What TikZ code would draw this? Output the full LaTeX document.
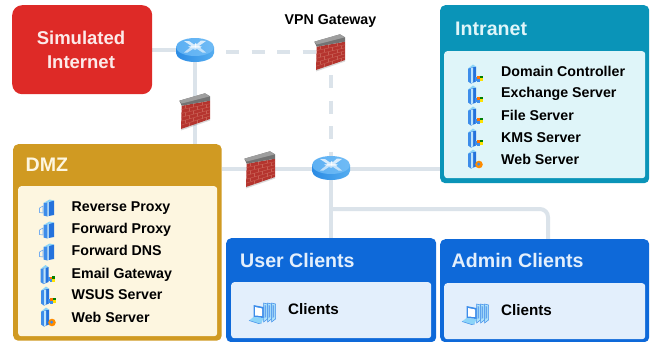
\documentclass[tikz,border=0pt]{standalone}
\usepackage{fontspec}
\setmainfont{Liberation Sans}
\usetikzlibrary{backgrounds}
\definecolor{linkc}{HTML}{DBE3EA}
\definecolor{redc}{HTML}{DE2A27}
\definecolor{goldc}{HTML}{D09A22}
\definecolor{goldi}{HTML}{FDF6E0}
\definecolor{tealc}{HTML}{0A94B8}
\definecolor{teali}{HTML}{DFF5F9}
\definecolor{bluec}{HTML}{0E69D9}
\definecolor{bluei}{HTML}{E3EFFC}
\definecolor{brick}{HTML}{B5342E}
\definecolor{mortar}{HTML}{C85F54}
\definecolor{rbodyl}{HTML}{2B8BE4}
\definecolor{rbodyr}{HTML}{55ADF0}
\definecolor{rtopl}{HTML}{5DB0F3}
\definecolor{rtopm}{HTML}{8CC8F8}
\definecolor{rtopr}{HTML}{6FBBF5}
\definecolor{tdark}{HTML}{2472DC}
\definecolor{tmid}{HTML}{3D8DEA}
\definecolor{tlight}{HTML}{BDE3FB}
\definecolor{ttop}{HTML}{8CD4F8}
\tikzset{
  x=1pt,y=-1pt,
  box/.style={draw=none,inner sep=0pt,rounded corners=5pt,anchor=north west},
  title/.style={anchor=base west,inner sep=0pt,font=\fontsize{19.6}{20}\selectfont\bfseries},
  item/.style={anchor=base west,inner sep=0pt,text=black,font=\fontsize{14.2}{15}\selectfont\bfseries},
  clientitem/.style={item,font=\fontsize{15.2}{16}\selectfont\bfseries},
  slot/.style={inner sep=0pt,draw=none,minimum width=#1,minimum height=20pt},
  link/.style={draw=linkc,line width=4pt},
  vpnlink/.style={draw=linkc,line width=4pt,dash pattern=on 13pt off 12.5pt},
  pics/routericon/.style={code={
    \path[shade,left color=rbodyl,right color=rbodyr]
      (-19,-3) -- (-19,3) arc[start angle=180,end angle=0,x radius=19,y radius=9] -- (19,-3) -- cycle;
    \path[shade,left color=rtopl,middle color=rtopm,right color=rtopr]
      (0,-3) ellipse[x radius=19,y radius=9];
    \fill[white,opacity=.75] (-11,-9) -- (-6,-9) -- (-1,-5.5) -- (1,-6.5) -- (1,-2.5) -- (-5,-2.5) -- (-3.5,-4) -- cycle;
    \fill[white,opacity=.75] (11,-9) -- (6,-9.5) -- (2,-6) -- (0,-7) -- (0,-2.5) -- (6,-2.5) -- (4,-4) -- cycle;
    \fill[white,opacity=.6] (-11,2.5) -- (-7.5,2.5) -- (-2,-1) -- (0,-.2) -- (0,-4) -- (-7,-4) -- (-5,-2.5) -- cycle;
    \fill[white,opacity=.6] (11,2.5) -- (7.5,2.5) -- (2,-1) -- (0,-.2) -- (0,-4) -- (7,-4) -- (5,-2.5) -- cycle;
  }},
  pics/firewallicon/.style={code={
    \fill[brick] (-13.3,-5.3) -- (15,-10.3) -- (15,8) -- (-14,18) -- cycle;
    \begin{scope}
      \clip (-13.3,-5.3) -- (15,-10.3) -- (15,8) -- (-14,18) -- cycle;
      \foreach \i in {1,...,5}{
        \pgfmathsetmacro\yl{-5.3+\i*3.9}
        \pgfmathsetmacro\yr{-10.3+\i*3.05}
        \draw[mortar,line width=.45pt] (-14,\yl) -- (15,\yr);
      }
      \foreach \i in {0,...,5}{
        \pgfmathsetmacro\off{mod(\i,2)*4}
        \foreach \k in {0,1,2}{
          \pgfmathsetmacro\xx{-10+\off+\k*8.5}
          \pgfmathsetmacro\ya{-5.3+\i*3.9+(\xx+14)*(-5+\i*(-.85))/29}
          \pgfmathsetmacro\yb{\ya+3.3}
          \draw[mortar,line width=.45pt] (\xx,\ya) -- (\xx,\yb);
        }
      }
    \end{scope}
    \fill[black!55] (-15.7,-10.3) -- (10,-17.7) -- (15,-14.7) -- (15,-10.3) -- (-13.3,-5.3) -- cycle;
    \fill[black!38] (-15.7,-10.3) -- (10,-17.7) -- (15,-14.7) -- (-13.3,-7.5) -- cycle;
    \fill[black,opacity=.15] (-14,18) -- (15,8) -- (15,9.5) -- (-14,19.5) -- cycle;
  }},
  pics/towericon/.style={code={
    \fill[tmid] (-8,-6) -- (-5,-7) -- (-5,9) -- (-8,7) -- cycle;
    \fill[tdark] (-5,-7) -- (0,-8) -- (0,7) -- (-5,9) -- cycle;
    \fill[tlight] (-4.8,-6.5) -- (-3,-7) -- (-3,8) -- (-4.8,8.5) -- cycle;
    \fill[ttop] (-8,-6) -- (-3,-10) -- (0,-8) -- (-5,-7) -- cycle;
  }},
  pics/proxyicon/.style={code={
    \draw[tmid!70!white,line width=.6pt] (-7,0) -- (-3.5,-2) -- (-3.5,5) -- (-7,4.5) -- cycle;
    \fill[tmid] (-3,-5) -- (1,-6) -- (1,8.5) -- (-3,7.5) -- cycle;
    \fill[tlight] (1,-6) -- (2.3,-6.5) -- (2.3,8) -- (1,8.5) -- cycle;
    \fill[tdark] (2.3,-6.5) -- (7.5,-7.5) -- (7.5,7) -- (2.3,8) -- cycle;
    \fill[ttop] (-3,-5) -- (3,-8.5) -- (7.5,-7.5) -- (2,-5.8) -- cycle;
  }},
  pics/winicon/.style={code={
    \pic at (0,0) {towericon};
    \fill[tmid] (-1,2) rectangle (3,6);
    \fill[orange!90!red] (1,1.5) rectangle (3.7,4);
    \fill[green!50!black] (3.9,1) rectangle (6.6,3.7);
    \fill[tmid] (1,4.2) rectangle (3.7,7);
    \fill[yellow!85!orange] (3.9,3.9) rectangle (6.6,6.7);
  }},
  pics/webicon/.style={code={
    \pic at (0,0) {towericon};
    \fill[orange!90!yellow] (3,5) circle[radius=3.8];
    \fill[tmid] (2.6,4.6) circle[radius=1.7];
  }},
  pics/clienticon/.style={code={
    \foreach \d in {12,8,4}{
      \fill[ttop!70!white] (\d-3,-10) -- (\d+1,-9) -- (\d+1,6) -- (\d-3,9) -- cycle;
      \draw[tmid,line width=.5pt] (\d-3,-10) -- (\d+1,-9) -- (\d+1,6) -- (\d-3,9) -- cycle;
      \fill[tmid!80!white] (\d-2,-8) -- (\d-.5,-7.5) -- (\d-.5,4) -- (\d-2,5) -- cycle;
    }
    \fill[tmid] (-9,-8) -- (1,-6) -- (1,5) -- (-9,4) -- cycle;
    \fill[white] (-7.5,-6) -- (-.5,-4.5) -- (-.5,3) -- (-7.5,2.5) -- cycle;
    \fill[ttop] (-9,4) -- (1,5) -- (-1,10) -- (-4,10.5) -- (-13.5,7.5) -- cycle;
    \draw[tmid,line width=.5pt] (-13.5,7.5) -- (-4,10.5) -- (-1,10);
  }},
}
\begin{document}
\begin{tikzpicture}
\useasboundingbox (0,0) rectangle (650,341);
% group boxes
\node[box,fill=redc,rounded corners=10pt,minimum width=140pt,minimum height=89pt] (inet) at (12,5) {};
\node[box,fill=goldc,minimum width=208.5pt,minimum height=196.5pt] (dmz) at (13,144) {};
\node[box,fill=goldi,rounded corners=3pt,minimum width=199pt,minimum height=150pt] (dmzin) at (18,186) {};
\node[box,fill=tealc,minimum width=209pt,minimum height=178pt] (intra) at (440,5) {};
\node[box,fill=teali,rounded corners=3pt,minimum width=201pt,minimum height=127pt] (intrain) at (444,51) {};
\node[box,fill=bluec,minimum width=210pt,minimum height=104pt] (uc) at (226,238) {};
\node[box,fill=bluei,rounded corners=3pt,minimum width=200pt,minimum height=56pt] (ucin) at (231,282) {};
\node[box,fill=bluec,minimum width=209pt,minimum height=103pt] (ac) at (440,239) {};
\node[box,fill=bluei,rounded corners=3pt,minimum width=201pt,minimum height=56pt] (acin) at (444,283) {};
% device slots
\node[slot=38pt] (r1) at (195,50) {};
\node[slot=38pt] (r2) at (331,168) {};
\node[slot=30pt] (fw1) at (195,111) {};
\node[slot=30pt] (fwv) at (330,52) {};
\node[slot=30pt] (fw3) at (260,169) {};
\coordinate (br) at (331,209);
\coordinate (acin2) at (548,239);
% connectors
\begin{pgfonlayer}{background}
\draw[link] (inet.east |- r1) -- (r1.center);
\draw[link] (r1.center) -- (fw1.center) -- (fw1.center |- dmz.north);
\draw[link] (dmz.east |- fw3) -- (fw3.center) -- (r2.center |- fw3) -- (intra.west |- fw3);
\draw[link] (r2.center) -- (r2.center |- uc.north);
\draw[link,rounded corners=8pt] (br) -- (acin2 |- br) -- (acin2);
\draw[vpnlink,dash phase=20pt] (r1.center) ++(0,2) -- (fwv.center);
\draw[vpnlink,dash phase=2.5pt] (fwv.center) ++(1,0) -- (r2.center);
\end{pgfonlayer}
% device icons
\pic at (r1) {routericon};
\pic at (r2) {routericon};
\pic at (fw1) {firewallicon};
\pic at (fwv) {firewallicon};
\pic at (fw3) {firewallicon};
% titles
\node[inner sep=0pt,text=white!90!redc,align=center,font=\fontsize{18.5}{24}\selectfont\bfseries] (inettxt) at (81,50) {Simulated\\Internet};
\node[title,text=goldi] (dmzt) at (25.5,171) {DMZ};
\node[title,text=teali] (intrat) at (455,35) {Intranet};
\node[title,text=bluei] (uct) at (240,267) {User Clients};
\node[title,text=bluei] (act) at (451.5,267) {Admin Clients};
\node[item,anchor=base] (vpnt) at (330.5,24) {VPN Gateway};
% DMZ rows
\node[item] (d1) at (71.5,211) {Reverse Proxy};
\node[item] (d2) at (71.5,233) {Forward Proxy};
\node[item] (d3) at (71.5,255) {Forward DNS};
\node[item] (d4) at (71.5,278) {Email Gateway};
\node[item] (d5) at (71.5,299) {WSUS Server};
\node[item] (d6) at (71.5,322) {Web Server};
\pic at (46.5,208) {proxyicon};
\pic at (46.5,230) {proxyicon};
\pic at (46.5,252) {proxyicon};
\pic at (48.5,275) {winicon};
\pic at (49,296.5) {winicon};
\pic at (49,317.5) {webicon};
% Intranet rows
\node[item] (i1) at (501,76) {Domain Controller};
\node[item] (i2) at (501,97) {Exchange Server};
\node[item] (i3) at (501,120) {File Server};
\node[item] (i4) at (501,142) {KMS Server};
\node[item] (i5) at (501,164) {Web Server};
\pic at (476,74.5) {winicon};
\pic at (476,95.5) {winicon};
\pic at (476,116.5) {winicon};
\pic at (476,138.5) {winicon};
\pic at (476,159.5) {webicon};
% client rows
\node[clientitem] (c1) at (288,314.5) {Clients};
\node[clientitem] (c2) at (501,315.5) {Clients};
\pic at (262.5,313) {clienticon};
\pic at (475.5,314) {clienticon};
\end{tikzpicture}
\end{document}
